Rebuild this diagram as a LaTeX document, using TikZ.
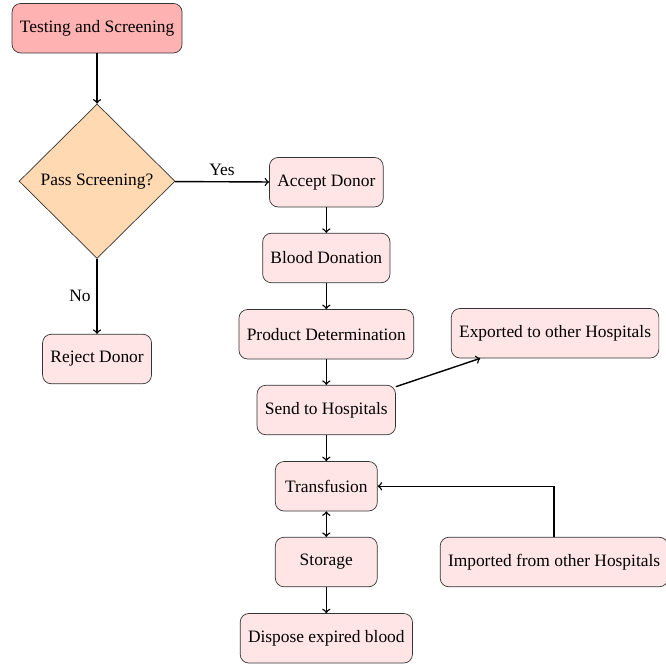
\documentclass[tikz,border=0pt]{standalone}
\usepackage{fontspec}
\setmainfont{Liberation Serif}
\usetikzlibrary{shapes.geometric}

\tikzset{
  block/.style={draw=black!80, fill=red!10, rounded corners=5pt, minimum height=1cm, minimum width=2.06cm, inner xsep=4.5pt},
  startblock/.style={block, fill=red!30},
  decision/.style={diamond, draw=black!80, fill=orange!30, inner sep=0pt, minimum width=3.15cm, minimum height=3.12cm},
  line/.style={draw, thick, ->}
}

\begin{document}
\begin{tikzpicture}
    \useasboundingbox (0,0) rectangle (13.43,-13.45);
    % left column
    \node[startblock] (test)   at (1.96,-0.57) {Testing and Screening};
    \node[decision]   (pass)   at (1.96,-3.66) {Pass Screening?};
    \node[block]      (reject) at (1.96,-7.25) {Reject Donor};
    % main column
    \node[block] (accept)   at (6.59,-3.68)  {Accept Donor};
    \node[block] (donation) at (6.59,-5.21)  {Blood Donation};
    \node[block] (product)  at (6.59,-6.75)  {Product Determination};
    \node[block] (send)     at (6.59,-8.28)  {Send to Hospitals};
    \node[block] (transf)   at (6.59,-9.82)  {Transfusion};
    \node[block] (storage)  at (6.59,-11.35) {Storage};
    \node[block] (dispose)  at (6.59,-12.89) {Dispose expired blood};
    % right column
    \node[block] (exported) at (11.21,-6.73)  {Exported to other Hospitals};
    \node[block] (imported) at (11.19,-11.35) {Imported from other Hospitals};

    \draw[line] (test) -- (pass);
    \draw[line] (pass) -- node[above] {Yes} (accept);
    \draw[line] (pass) -- node[left] {No} (reject);
    \draw[line] (accept) -- (donation);
    \draw[line] (donation) -- (product);
    \draw[line] (product) -- (send);
    \draw[line] (send) -- (exported);
    \draw[line] (send) -- (transf);
    \draw[line, <->] (transf) -- (storage);
    \draw[line] (storage) -- (dispose);
    \draw[line] (imported.north) |- (transf.east);
\end{tikzpicture}
\end{document}
